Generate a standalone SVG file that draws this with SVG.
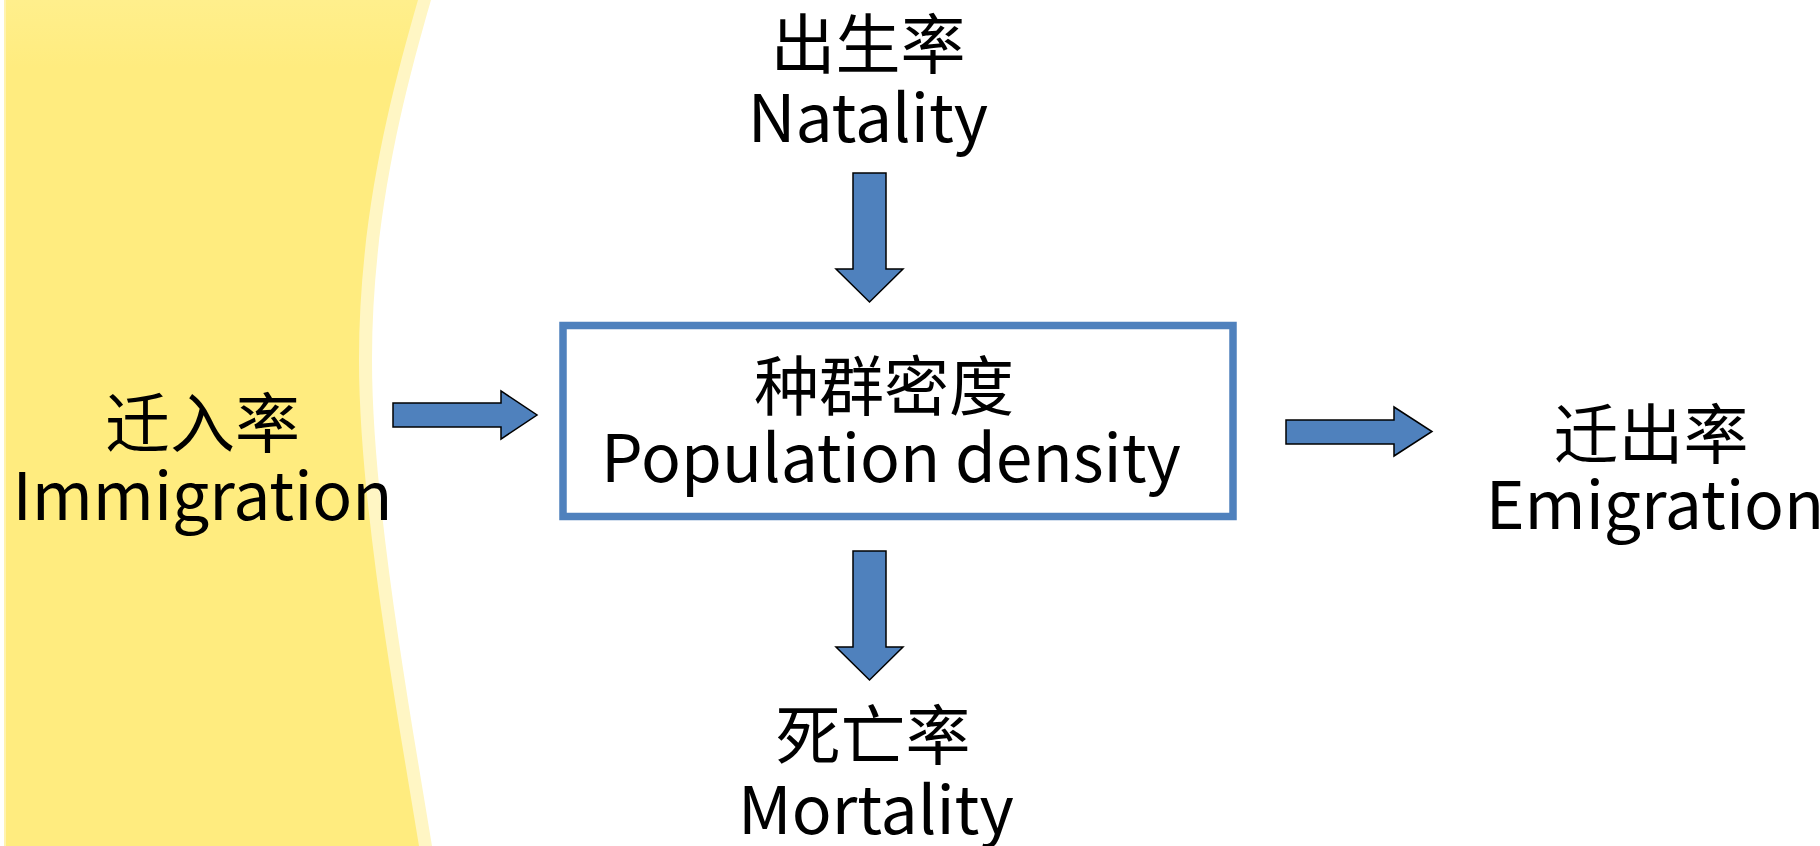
<svg xmlns="http://www.w3.org/2000/svg" width="1820" height="846" viewBox="0 0 1820 846">
  <defs>
    <linearGradient id="yg" x1="0" y1="0" x2="0" y2="1">
      <stop offset="0" stop-color="#FFEF8C"/>
      <stop offset="0.08" stop-color="#FFEC7F"/>
      <stop offset="1" stop-color="#FFEC7F"/>
    </linearGradient>
  </defs>
  <style>
    .zh { font-family: "Noto Sans CJK SC", "Noto Sans", sans-serif; font-size: 65px; fill: #000; text-anchor: middle; }
    .en { font-family: "Noto Sans CJK SC", "Noto Sans", sans-serif; font-size: 66px; fill: #000; text-anchor: middle; }
    .arrow { fill: #4F81BD; stroke: #000; stroke-width: 1.5; stroke-linejoin: miter; }
    .box { fill: #FFFFFF; stroke: #4F81BD; stroke-width: 7.5; }
  </style>
  <rect x="0" y="0" width="1820" height="846" fill="#FFFFFF"/>
  <g id="background">
    <path d="M4,0 L431,0 C402,100 372,220 372,360 C372,500 408,700 432,846 L4,846 Z" fill="#FFF6C4"/>
    <path d="M4,0 L418,0 C389,100 359,220 359,360 C359,500 395,700 419,846 L4,846 Z" fill="url(#yg)"/>
    <rect x="4" y="0" width="2" height="846" fill="#FFF3B0"/>
  </g>
  <g id="connectors">
    <polygon class="arrow" points="853,173 886,173 886,269 903,269 869.5,302 836,269 853,269"/>
    <polygon class="arrow" points="853,551 886,551 886,647 903,647 869.5,680 836,647 853,647"/>
    <polygon class="arrow" points="393,403 501,403 501,391 537,415 501,439 501,427 393,427"/>
    <polygon class="arrow" points="1286,420 1394,420 1394,407 1432,431.5 1394,456 1394,444 1286,444"/>
  </g>
  <g id="node-density">
    <rect class="box" x="563" y="325.5" width="670" height="191"/>
    <text class="zh" x="884" y="410">种群密度</text>
    <text class="en" x="891" y="482">Population density</text>
  </g>
  <g id="node-natality">
    <text class="zh" x="868" y="68">出生率</text>
    <text class="en" x="868" y="142">Natality</text>
  </g>
  <g id="node-mortality">
    <text class="zh" x="873" y="759">死亡率</text>
    <text class="en" x="876" y="834">Mortality</text>
  </g>
  <g id="node-immigration">
    <text class="zh" x="202.5" y="446.5">迁入率</text>
    <text class="en" x="202.5" y="520">Immigration</text>
  </g>
  <g id="node-emigration">
    <text class="zh" x="1651" y="457.5">迁出率</text>
    <text class="en" x="1655" y="529">Emigration</text>
  </g>
</svg>
